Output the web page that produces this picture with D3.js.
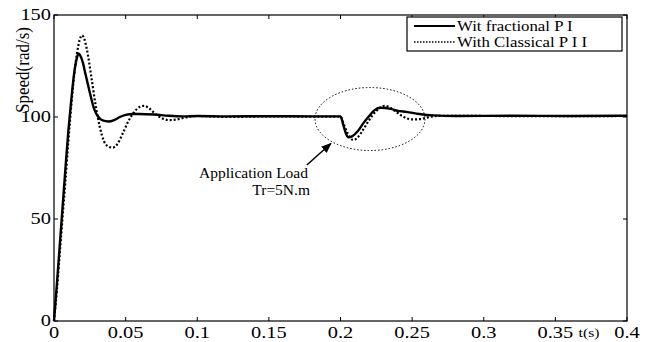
<!DOCTYPE html>
<html><head><meta charset="utf-8">
<script src="https://cdn.jsdelivr.net/npm/d3@7"></script>
<style>body{margin:0;background:#fff}svg{display:block}text{font-family:"Liberation Serif","Times New Roman",Times,serif;fill:#000}</style>
</head><body>
<svg id="c" width="657" height="342"></svg>
<script>
const xTicks = [0,0.05,0.1,0.15,0.2,0.25,0.3,0.35,0.4];
const xTickLabels = ["0","0.05","0.1","0.15","0.2","0.25","0.3","0.35","0.4"];
const yTicks = [0,50,100,150];
const seriesNames = ["Wit fractional P I","With Classical P I I"];

const tFrac = [0,0.002,0.004,0.006,0.008,0.010,0.012,0.014,0.016,0.017,0.018,0.020,0.022,0.025,0.028,0.031,0.034,0.038,0.042,0.046,0.050,0.055,0.060,0.070,0.080,0.090,0.100,0.120,0.150,0.180,0.200,0.202,0.204,0.2055,0.208,0.212,0.216,0.220,0.224,0.228,0.235,0.240,0.246,0.255,0.265,0.280,0.320,0.360,0.400];
const vFrac = [0,18,37,56,75,93,108,121,129,131,130.5,127,121,112,104,100,98.3,97.8,98.5,100,101,101.5,101.5,101.2,100.6,100.3,100.5,100.3,100.4,100.3,100.3,96,91.5,90,90.5,93,97,100.5,103.5,104.5,104,103,102.5,101.5,100.8,100.5,100.6,100.5,100.6];

const tClass = [0,0.002,0.004,0.006,0.008,0.010,0.012,0.014,0.016,0.018,0.0195,0.021,0.023,0.026,0.029,0.032,0.035,0.038,0.041,0.044,0.048,0.052,0.056,0.060,0.063,0.066,0.070,0.075,0.080,0.085,0.090,0.095,0.100,0.110,0.120,0.150,0.180,0.200,0.202,0.205,0.208,0.2095,0.212,0.216,0.220,0.225,0.231,0.237,0.243,0.250,0.256,0.262,0.270,0.300,0.350,0.400];
const vClass = [0,15,33,51,69,88,105,120,131,138,140,138.5,133,120,106,95,88,85.5,85,86.5,92,98,102.5,105,105.5,104.5,102,99.5,98.5,98.7,99.5,100.2,100.5,100.3,100,100.3,100.2,100.2,97,92,89,88.8,90,94,98.5,103,105.5,103.5,100.5,98.8,99,100,100.6,100.5,100.4,100.5];

const svg = d3.select("#c");
const m = {l:54, r:627, t:15, b:321};
const x = d3.scaleLinear().domain([0,0.4]).range([m.l,m.r]);
const y = d3.scaleLinear().domain([0,150]).range([m.b,m.t]);
const SX = 1.2;

// frame
svg.append("rect").attr("x",m.l).attr("y",m.t).attr("width",m.r-m.l).attr("height",m.b-m.t)
  .attr("fill","none").attr("stroke","#000").attr("stroke-width",1.2);

// ticks (inward)
const tl = 4;
xTicks.forEach(v=>{
  svg.append("line").attr("x1",x(v)).attr("x2",x(v)).attr("y1",m.b).attr("y2",m.b-tl).attr("stroke","#000");
  svg.append("line").attr("x1",x(v)).attr("x2",x(v)).attr("y1",m.t).attr("y2",m.t+tl).attr("stroke","#000");
});
yTicks.forEach(v=>{
  svg.append("line").attr("x1",m.l).attr("x2",m.l+tl).attr("y1",y(v)).attr("y2",y(v)).attr("stroke","#000");
  svg.append("line").attr("x1",m.r).attr("x2",m.r-tl).attr("y1",y(v)).attr("y2",y(v)).attr("stroke","#000");
});

function txt(xp,yp,s,size,anchor,sx){
  return svg.append("text").attr("transform",`translate(${xp},${yp}) scale(${sx||SX},1)`)
    .attr("text-anchor",anchor||"middle").attr("font-size",size).text(s);
}
xTicks.forEach((v,i)=>txt(x(v),338,xTickLabels[i],17,"middle"));
yTicks.forEach(v=>txt(m.l-3,y(v)+5,String(v),17,"end"));
txt(589,337,"t(s)",13,"middle");
svg.append("text").attr("transform","translate(29,70) rotate(-90) scale(1,1.15)")
  .attr("text-anchor","middle").attr("font-size",17).text("Speed(rad/s)");

// curves
const line = d3.line().x(d=>x(d[0])).y(d=>y(d[1])).curve(d3.curveMonotoneX);
const dFrac = tFrac.map((t,i)=>[t,vFrac[i]]);
const dClass = tClass.map((t,i)=>[t,vClass[i]]);
svg.append("path").attr("d",line(dClass)).attr("fill","none").attr("stroke","#000")
  .attr("stroke-width",2.2).attr("stroke-dasharray","2,2");
svg.append("path").attr("d",line(dFrac)).attr("fill","none").attr("stroke","#000")
  .attr("stroke-width",2.4);

// annotation ellipse + arrow
svg.append("ellipse").attr("cx",x(0.2206)).attr("cy",y(99)).attr("rx",55).attr("ry",31.5)
  .attr("fill","none").attr("stroke","#000").attr("stroke-width",1).attr("stroke-dasharray","1.5,2");
svg.append("defs").append("marker").attr("id","ah").attr("viewBox","0 0 10 10").attr("refX",9).attr("refY",5)
  .attr("markerWidth",7).attr("markerHeight",7).attr("orient","auto")
  .append("path").attr("d","M0,1 L10,5 L0,9 Z").attr("fill","#000");
svg.append("line").attr("x1",x(0.1765)).attr("y1",y(76.5)).attr("x2",x(0.1933)).attr("y2",y(87))
  .attr("stroke","#000").attr("stroke-width",1.5).attr("marker-end","url(#ah)");
txt(308,178,"Application Load",15.5,"end",1.0);
txt(310,195,"Tr=5N.m",15.5,"end",1.0);

// legend
const lg = svg.append("g");
lg.append("rect").attr("x",407).attr("y",17).attr("width",215).attr("height",34)
  .attr("fill","#fff").attr("stroke","#000").attr("stroke-width",1.2);
lg.append("line").attr("x1",414).attr("x2",455).attr("y1",26).attr("y2",26).attr("stroke","#000").attr("stroke-width",2);
lg.append("line").attr("x1",414).attr("x2",455).attr("y1",42).attr("y2",42).attr("stroke","#000").attr("stroke-width",1.5).attr("stroke-dasharray","1.5,1.5");
txt(457,30.5,seriesNames[0],15,"start",1.12);
txt(457,46.5,seriesNames[1],15,"start",1.12);
</script>
</body></html>
